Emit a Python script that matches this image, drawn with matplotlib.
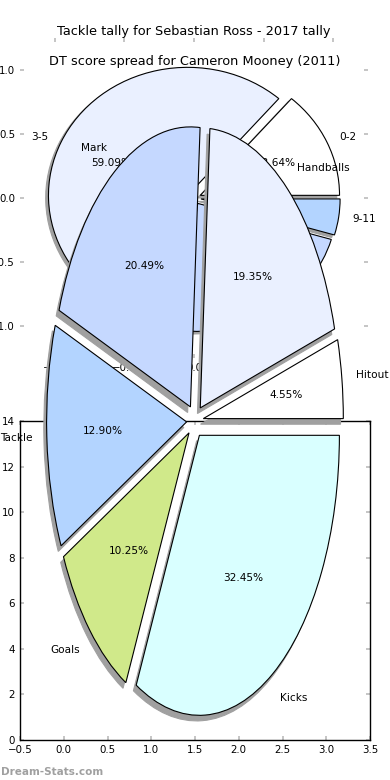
import matplotlib.pyplot as plt
import numpy as np

# DT score spread (games per score band)
dt_labels = ['0-2', '3-5', '6-8', '9-11']
dt_counts = [3, 13, 5, 1]

# Stat share for the player (percent)
stat_labels = ['Hitout', 'Handballs', 'Mark', 'Tackle', 'Goals', 'Kicks']
stat_values = [4.55, 19.35, 20.49, 12.90, 10.25, 32.45]

# Tick values of the axes left behind on the canvas
dt_ticks = [-1.0, -0.5, 0.0, 0.5, 1.0]
frame_xticks = [-0.5, 0.0, 0.5, 1.0, 1.5, 2.0, 2.5, 3.0, 3.5]
frame_yticks = [0, 2, 4, 6, 8, 10, 12, 14]

colors = ['#ffffff', '#eaf0ff', '#c5d8ff', '#b3d4ff', '#d0e98a', '#d9ffff']
# shadow offset gets scaled by dpi/72, so keep it small
shadow = {'ox': -0.0144, 'oy': -0.0144, 'facecolor': '#a0a0a0', 'edgecolor': '#a0a0a0', 'alpha': 1}

W, H = 390, 780

# Pixel box -> figure coordinates
def px_box(x0, y0, x1, y1):
    return [x0 / W, 1 - y1 / H, (x1 - x0) / W, (y1 - y0) / H]

def style_ticks(ax):
    ax.tick_params(direction='in', top=True, right=True, length=3, width=1.2,
                   color='#bbbbbb', labelsize=7.4, pad=3.5)

fig = plt.figure(figsize=(W / 100, H / 100), dpi=100)

# Upper pie (DT score spread) with its ticks but no frame
ax1 = fig.add_axes(px_box(20, 38, 368, 358), zorder=0)
ax1.pie(dt_counts, labels=dt_labels, colors=colors[:len(dt_counts)], explode=[0.05] * len(dt_counts),
        autopct='%1.2f%%', shadow=shadow, textprops={'fontsize': 7.6},
        wedgeprops={'edgecolor': 'black', 'linewidth': 0.8})
ax1.set_aspect('auto')
ax1.set_xlim(-1.25, 1.25)
ax1.set_ylim(-1.25, 1.25)
ax1.set_xticks(dt_ticks)
ax1.set_yticks(dt_ticks)
ax1.set_frame_on(False)
style_ticks(ax1)
ax1.set_title('Tackle tally for Sebastian Ross - 2017 tally', fontsize=9.3, pad=2.2)

# Empty framed axes at the bottom
ax2 = fig.add_axes(px_box(20, 421, 370, 740), zorder=1)
ax2.set_xlim(-0.5, 3.5)
ax2.set_ylim(0, 14)
ax2.set_xticks(frame_xticks)
ax2.set_yticks(frame_yticks)
style_ticks(ax2)
for s in ax2.spines.values():
    s.set_linewidth(1.0)

# Lower pie (stat share) drawn on top, stretched
ax3 = fig.add_axes(px_box(20, 71, 370, 771), zorder=2)
ax3.pie(stat_values, labels=stat_labels, colors=colors, explode=[0.06] * len(stat_values),
        autopct='%1.2f%%', shadow=shadow, textprops={'fontsize': 7.6},
        wedgeprops={'edgecolor': 'black', 'linewidth': 0.8})
ax3.set_aspect('auto')
ax3.set_xlim(-1.25, 1.25)
ax3.set_ylim(-1.25, 1.25)
ax3.set_frame_on(False)
ax3.patch.set_visible(False)
ax3.set_title('DT score spread for Cameron Mooney (2011)', fontsize=9.3, pad=4)

fig.text(1 / W, 1 - 775 / H, 'Dream-Stats.com', fontsize=7.5, fontweight='bold',
         color='#a0a0a0', ha='left', va='baseline')

fig.savefig('out.png', dpi=100)
